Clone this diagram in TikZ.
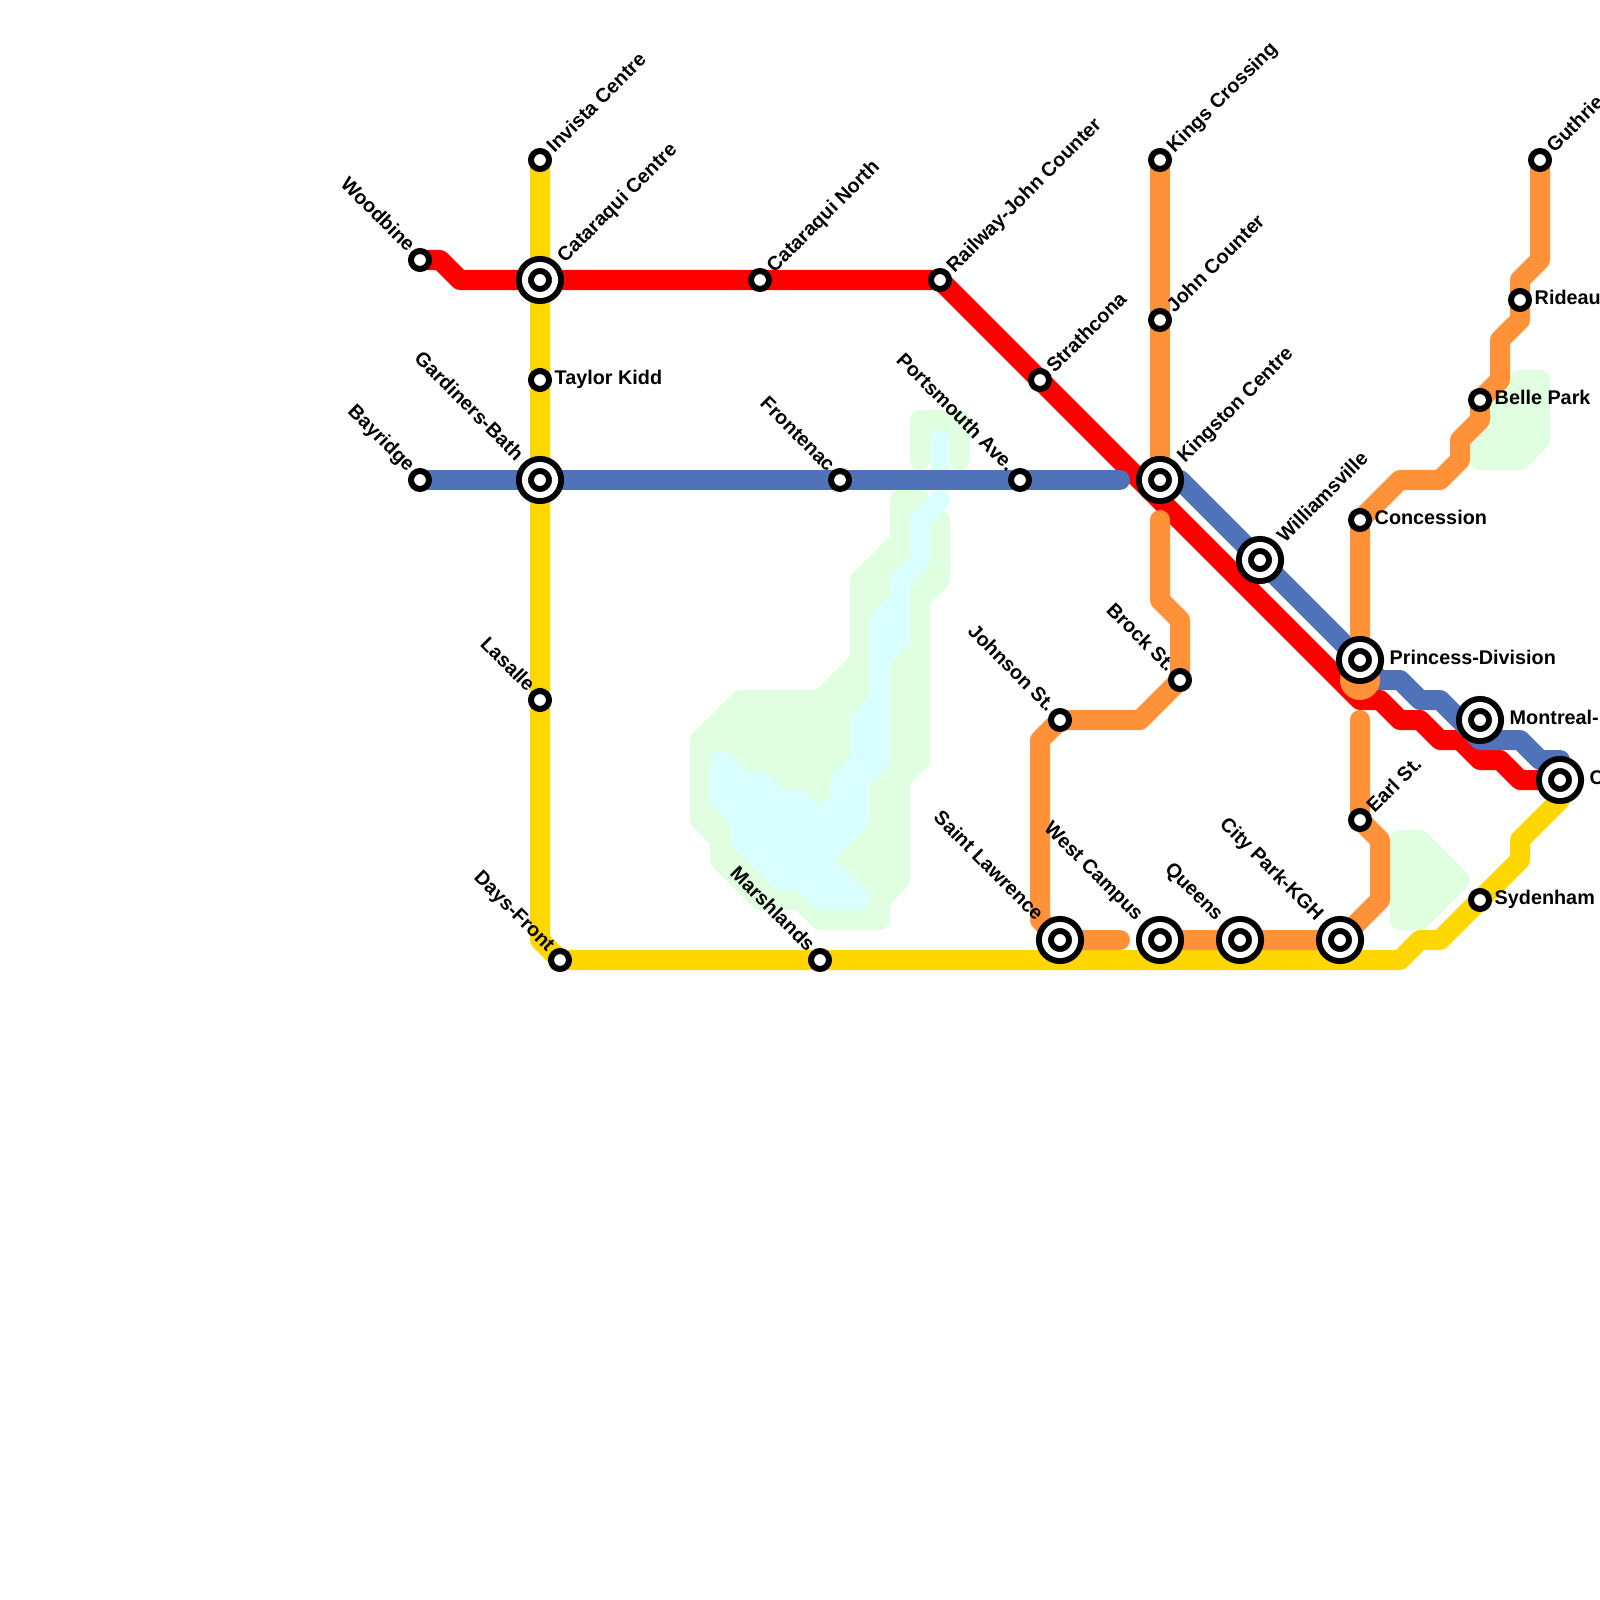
\documentclass[tikz,border=0pt]{standalone}
\usepackage{fontspec}
\setmainfont{Liberation Sans}
\usepackage{xcolor}
\usetikzlibrary{positioning,backgrounds}

\definecolor{lineyellow}{HTML}{FFD700}
\definecolor{linered}{HTML}{FF0000}
\definecolor{lineblue}{HTML}{5072B9}
\definecolor{lineorange}{HTML}{FF9239}
\definecolor{parkgreen}{HTML}{E0FFE0}
\definecolor{lakecyan}{HTML}{DAFFFF}

\begin{document}
\begin{tikzpicture}[
  x=0.01cm, y=-0.01cm,
  metro/.style={line width=0.2cm, line join=round, line cap=round},
  park/.style={metro, draw=parkgreen, fill=parkgreen},
  lake/.style={metro, draw=lakecyan, fill=lakecyan},
  stn/.style={circle, draw=black, fill=white, line width=0.06cm, minimum size=0.18cm, inner sep=0pt},
  hub/.style={circle, draw=black, double=white, double distance=0.06cm, fill=white, line width=0.06cm, minimum size=0.3cm, inner sep=0pt},
  lbl/.style={font=\fontsize{5.63}{6.5}\selectfont\bfseries, inner sep=0pt, text height=4.1pt, text depth=0pt},
  stnE/.style={lbl, above right=0.025cm and 0.14cm of #1.center, anchor=west},
  hubE/.style={lbl, above right=0.025cm and 0.29cm of #1.center, anchor=west},
  stnNE/.style={lbl, rotate=45, above right=0.11cm and 0.09cm of #1.center, anchor=west},
  hubNE/.style={lbl, rotate=45, above right=0.21cm and 0.195cm of #1.center, anchor=west},
  stnNW/.style={lbl, rotate=-45, above left=0.12cm and 0.075cm of #1.center, anchor=east},
  hubNW/.style={lbl, rotate=-45, above left=0.23cm and 0.19cm of #1.center, anchor=east},
]
  \useasboundingbox (0,0) rectangle (1600,1600);

  % stations
  \node[stn] (invista) at (540,160) {};
  \node[hub] (cataraqui) at (540,280) {};
  \node[stn] (taylor) at (540,380) {};
  \node[hub] (gardiners) at (540,480) {};
  \node[stn] (lasalle) at (540,700) {};
  \node[stn] (daysfront) at (560,960) {};
  \node[stn] (woodbine) at (420,260) {};
  \node[stn] (bayridge) at (420,480) {};
  \node[stn] (catnorth) at (760,280) {};
  \node[stn] (railway) at (940,280) {};
  \node[stn] (strathcona) at (1040,380) {};
  \node[hub] (kingston) at (1160,480) {};
  \node[stn] (kingscross) at (1160,160) {};
  \node[stn] (johncounter) at (1160,320) {};
  \node[stn] (frontenac) at (840,480) {};
  \node[stn] (portsmouth) at (1020,480) {};
  \node[hub] (williams) at (1260,560) {};
  \node[stn] (concession) at (1360,520) {};
  \node[hub] (princess) at (1360,660) {};
  \node[hub] (montreal) at (1480,720) {};
  \node[hub] (lastc) at (1560,780) {};
  \node[stn] (guthrie) at (1540,160) {};
  \node[stn] (rideau) at (1520,300) {};
  \node[stn] (bellepark) at (1480,400) {};
  \node[stn] (sydenham) at (1480,900) {};
  \node[stn] (earl) at (1360,820) {};
  \node[stn] (brock) at (1180,680) {};
  \node[stn] (johnson) at (1060,720) {};
  \node[hub] (lawrence) at (1060,940) {};
  \node[hub] (westcampus) at (1160,940) {};
  \node[hub] (queens) at (1240,940) {};
  \node[hub] (citypark) at (1340,940) {};
  \node[stn] (marshlands) at (820,960) {};

  % labels
  \node[stnNE=invista] (invistalbl) {Invista Centre};
  \node[hubNE=cataraqui] (cataraquilbl) {Cataraqui Centre};
  \node[stnE=taylor] (taylorlbl) {Taylor Kidd};
  \node[hubNW=gardiners] (gardinerslbl) {Gardiners-Bath};
  \node[stnNW=lasalle] (lasallelbl) {Lasalle};
  \node[stnNW=daysfront] (daysfrontlbl) {Days-Front};
  \node[stnNW=woodbine] (woodbinelbl) {Woodbine};
  \node[stnNW=bayridge] (bayridgelbl) {Bayridge};
  \node[stnNE=catnorth] (catnorthlbl) {Cataraqui North};
  \node[stnNE=railway] (railwaylbl) {Railway-John Counter};
  \node[stnNE=strathcona] (strathconalbl) {Strathcona};
  \node[hubNE=kingston] (kingstonlbl) {Kingston Centre};
  \node[stnNE=kingscross] (kingscrosslbl) {Kings Crossing};
  \node[stnNE=johncounter] (johncounterlbl) {John Counter};
  \node[stnNW=frontenac] (frontenaclbl) {Frontenac};
  \node[stnNW=portsmouth] (portsmouthlbl) {Portsmouth Ave.};
  \node[hubNE=williams] (williamslbl) {Williamsville};
  \node[stnE=concession] (concessionlbl) {Concession};
  \node[hubE=princess] (princesslbl) {Princess-Division};
  \node[hubE=montreal] (montreallbl) {Montreal-};
  \node[hubE=lastc] (lastclbl) {C};
  \node[stnNE=guthrie] (guthrielbl) {Guthrie};
  \node[stnE=rideau] (rideaulbl) {Rideau};
  \node[stnE=bellepark] (belleparklbl) {Belle Park};
  \node[stnE=sydenham] (sydenhamlbl) {Sydenham};
  \node[stnNE=earl] (earllbl) {Earl St.};
  \node[stnNW=brock] (brocklbl) {Brock St.};
  \node[stnNW=johnson] (johnsonlbl) {Johnson St.};
  \node[hubNW=lawrence] (lawrencelbl) {Saint Lawrence};
  \node[hubNW=westcampus] (westcampuslbl) {West Campus};
  \node[hubNW=queens] (queenslbl) {Queens};
  \node[hubNW=citypark] (cityparklbl) {City Park-KGH};
  \node[stnNW=marshlands] (marshlandslbl) {Marshlands};

  \begin{scope}[on background layer]
    % parks and water
    \path[park] (700,740) -- (740,700) -- (820,700) -- (860,660) -- (860,580) -- (900,540) -- (900,500) -- (920,500) -- (920,520) -- (940,520) -- (940,580) -- (920,600) -- (920,760) -- (900,780) -- (900,880) -- (880,900) -- (880,920) -- (820,920) -- (800,900) -- (760,900) -- (720,860) -- (720,840) -- (700,820) -- cycle;
    \path[park] (920,460) -- (920,420) -- (960,420) -- (960,460);
    \path[park] (1520,380) -- (1540,380) -- (1540,440) -- (1520,460) -- (1480,460) -- (1480,420) -- cycle;
    \path[park] (1400,840) -- (1420,840) -- (1460,880) -- (1420,920) -- (1400,920) -- cycle;
    \path[lake] (720,760) -- (740,780) -- (760,780) -- (780,800) -- (800,800) -- (820,820) -- (840,800) -- (840,780) -- (860,760) -- (860,720) -- (880,700) -- (880,620) -- (900,600) -- (900,580) -- (920,560) -- (920,520) -- (940,500) -- (920,520) -- (920,560) -- (900,580) -- (900,640) -- (880,660) -- (880,760) -- (860,780) -- (860,820) -- (820,860) -- (860,900) -- (820,900) -- (800,880) -- (780,880) -- (760,860) -- (740,840) -- (740,820) -- (720,800) -- cycle;
    \draw[metro, lakecyan] (940,440) -- (940,480);

    % lines
    \draw[metro, lineyellow] (invista.center) -- (540,940) -- (daysfront.center) -- (1400,960) -- (1420,940) -- (1440,940) -- (1520,860) -- (1520,840) -- (1560,800) -- (lastc.center);
    \draw[metro, linered] (woodbine.center) -- (440,260) -- (460,280) -- (railway.center) -- (1360,700) -- (1380,700) -- (1400,720) -- (1420,720) -- (1440,740) -- (1460,740) -- (1480,760) -- (1500,760) -- (1520,780) -- (lastc.center);
    \draw[metro, lineblue] (bayridge.center) -- (1120,480);
    \draw[metro, lineblue] (kingston.center) -- (1180,480) -- (williams.center) -- (princess.center) -- (1380,680) -- (1400,680) -- (1420,700) -- (1440,700) -- (1480,740) -- (1520,740) -- (1540,760) -- (1560,760);
    \draw[metro, lineorange] (kingscross.center) -- (kingston.center);
    \draw[metro, lineorange] (1160,520) -- (1160,600) -- (1180,620) -- (brock.center) -- (1140,720) -- (johnson.center) -- (1040,740) -- (1040,920) -- (lawrence.center) -- (1120,940);
    \draw[metro, lineorange] (westcampus.center) -- (citypark.center) -- (1380,900) -- (1380,840) -- (earl.center) -- (1360,720);
    \draw[metro, lineorange] (1360,680) -- (concession.center) -- (1400,480) -- (1440,480) -- (1460,460) -- (1460,440) -- (1480,420) -- (bellepark.center) -- (1500,380) -- (1500,340) -- (1520,320) -- (1520,280) -- (1540,260) -- (guthrie.center);
    \fill[lineorange] (1360,680) circle (0.2cm);
  \end{scope}
\end{tikzpicture}
\end{document}
